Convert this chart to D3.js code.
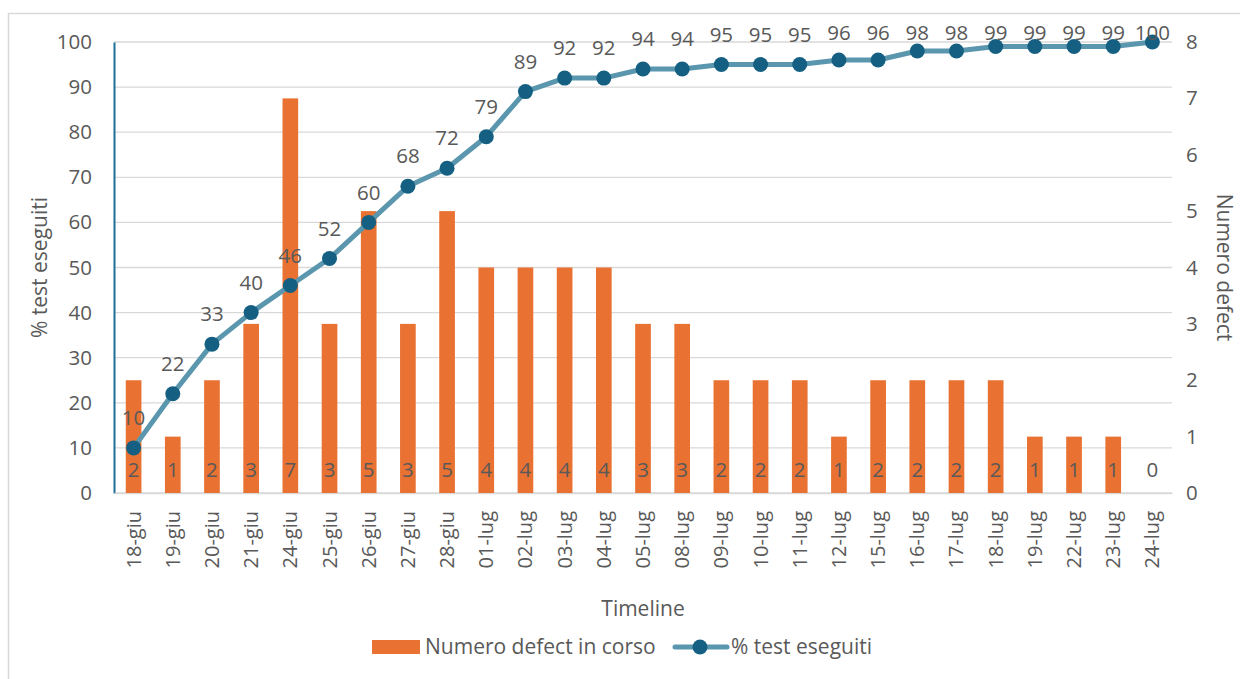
<!DOCTYPE html>
<html>
<head>
<meta charset="utf-8">
<script src="https://cdn.jsdelivr.net/npm/d3@7"></script>
<style>
  body { margin: 0; background: #fff; }
  text { font-family: "Open Sans", sans-serif; fill: #595959; }
</style>
</head>
<body>
<script>
// chart data
var dates = ["18-giu","19-giu","20-giu","21-giu","24-giu","25-giu","26-giu","27-giu","28-giu",
  "01-lug","02-lug","03-lug","04-lug","05-lug","08-lug","09-lug","10-lug","11-lug","12-lug",
  "15-lug","16-lug","17-lug","18-lug","19-lug","22-lug","23-lug","24-lug"];
var defects = [2,1,2,3,7,3,5,3,5,4,4,4,4,3,3,2,2,2,1,2,2,2,2,1,1,1,0];
var pctTests = [10,22,33,40,46,52,60,68,72,79,89,92,92,94,94,95,95,95,96,96,98,98,99,99,99,99,100];
var leftTicks = [0,10,20,30,40,50,60,70,80,90,100];
var rightTicks = [0,1,2,3,4,5,6,7,8];

var w = 1240, h = 679;
var plot = {left: 114, right: 1172, top: 42, bottom: 493};

var svg = d3.select("body").append("svg")
  .attr("width", w)
  .attr("height", h);

// outer frame
svg.append("rect")
  .attr("x", 8.5).attr("y", 13.5)
  .attr("width", 1250).attr("height", 690)
  .attr("fill", "none")
  .attr("stroke", "#d9d9d9")
  .attr("stroke-width", 1.5);

var x = d3.scaleBand()
  .domain(dates)
  .range([plot.left, plot.right])
  .paddingInner(0.6)
  .paddingOuter(0.3);

var yL = d3.scaleLinear().domain([0, 100]).range([plot.bottom, plot.top]);
var yR = d3.scaleLinear().domain([0, 8]).range([plot.bottom, plot.top]);

// gridlines
svg.append("g")
  .selectAll("line")
  .data(leftTicks)
  .enter().append("line")
  .attr("x1", plot.left).attr("x2", plot.right)
  .attr("y1", function(d) { return yL(d); })
  .attr("y2", function(d) { return yL(d); })
  .attr("stroke", "#d9d9d9")
  .attr("stroke-width", 1.3);

// left axis
var leftAxis = svg.append("g")
  .attr("transform", "translate(" + plot.left + ",0)")
  .call(d3.axisLeft(yL).tickValues(leftTicks).tickSize(0).tickPadding(22));
leftAxis.select(".domain").attr("stroke", "#1f6f96").attr("stroke-width", 2);
leftAxis.selectAll("text").style("font-size", "20.5px").attr("fill", "#595959");

// right axis
var rightAxis = svg.append("g")
  .attr("transform", "translate(" + plot.right + ",0)")
  .call(d3.axisRight(yR).tickValues(rightTicks).tickSize(0).tickPadding(14));
rightAxis.select(".domain").remove();
rightAxis.selectAll("text").style("font-size", "20.5px").attr("fill", "#595959");

// bottom axis
var bottomAxis = svg.append("g")
  .attr("transform", "translate(0," + plot.bottom + ")")
  .call(d3.axisBottom(x).tickSize(0).tickPadding(0));
bottomAxis.select(".domain").attr("stroke", "#d9d9d9").attr("stroke-width", 1.3);
bottomAxis.selectAll("text")
  .style("font-size", "20px")
  .attr("fill", "#595959")
  .attr("text-anchor", "end")
  .attr("dy", "0.35em")
  .attr("transform", "translate(0,18) rotate(-90)");

// bars (right axis)
var bw = x.bandwidth();
svg.append("g")
  .selectAll("rect")
  .data(defects)
  .enter().append("rect")
  .attr("x", function(d, i) { return x(dates[i]); })
  .attr("y", function(d) { return yR(d); })
  .attr("width", bw)
  .attr("height", function(d) { return plot.bottom - yR(d); })
  .attr("fill", "#e97132");

svg.append("g")
  .selectAll("text")
  .data(defects)
  .enter().append("text")
  .attr("x", function(d, i) { return x(dates[i]) + bw / 2; })
  .attr("y", plot.bottom - 23)
  .attr("dy", "0.35em")
  .attr("text-anchor", "middle")
  .style("font-size", "20.5px")
  .attr("fill", "#404040")
  .text(function(d) { return d; });

// line (left axis)
var line = d3.line()
  .x(function(d, i) { return x(dates[i]) + bw / 2; })
  .y(function(d) { return yL(d); });

svg.append("path")
  .datum(pctTests)
  .attr("d", line)
  .attr("fill", "none")
  .attr("stroke", "#5a96ad")
  .attr("stroke-width", 5)
  .attr("stroke-linejoin", "round");

svg.append("g")
  .selectAll("circle")
  .data(pctTests)
  .enter().append("circle")
  .attr("cx", function(d, i) { return x(dates[i]) + bw / 2; })
  .attr("cy", function(d) { return yL(d); })
  .attr("r", 7.5)
  .attr("fill", "#156082");

svg.append("g")
  .selectAll("text")
  .data(pctTests)
  .enter().append("text")
  .attr("x", function(d, i) { return x(dates[i]) + bw / 2; })
  .attr("y", function(d) { return Math.max(yL(d) - 30, 33); })
  .attr("dy", "0.35em")
  .attr("text-anchor", "middle")
  .style("font-size", "20.5px")
  .attr("fill", "#404040")
  .text(function(d) { return d; });

// axis titles
svg.append("text")
  .attr("transform", "translate(40," + ((plot.top + plot.bottom) / 2) + ") rotate(-90)")
  .attr("text-anchor", "middle")
  .attr("dy", "0.35em")
  .style("font-size", "21px")
  .text("% test eseguiti");

svg.append("text")
  .attr("transform", "translate(1224," + ((plot.top + plot.bottom) / 2) + ") rotate(90)")
  .attr("text-anchor", "middle")
  .attr("dy", "0.35em")
  .style("font-size", "21px")
  .text("Numero defect");

svg.append("text")
  .attr("x", (plot.left + plot.right) / 2)
  .attr("y", 609)
  .attr("dy", "0.35em")
  .attr("text-anchor", "middle")
  .style("font-size", "21px")
  .text("Timeline");

// legend
var legend = svg.append("g");
legend.append("rect")
  .attr("x", 372).attr("y", 640)
  .attr("width", 48).attr("height", 14)
  .attr("fill", "#e97132");
legend.append("text")
  .attr("x", 425).attr("y", 647)
  .attr("dy", "0.35em")
  .style("font-size", "21px")
  .text("Numero defect in corso");
legend.append("line")
  .attr("x1", 675).attr("x2", 727)
  .attr("y1", 647).attr("y2", 647)
  .attr("stroke", "#5a96ad")
  .attr("stroke-width", 5)
  .attr("stroke-linecap", "round");
legend.append("circle")
  .attr("cx", 700).attr("cy", 647)
  .attr("r", 7.5)
  .attr("fill", "#156082");
legend.append("text")
  .attr("x", 731).attr("y", 647)
  .attr("dy", "0.35em")
  .style("font-size", "21px")
  .text("% test eseguiti");
</script>
</body>
</html>
